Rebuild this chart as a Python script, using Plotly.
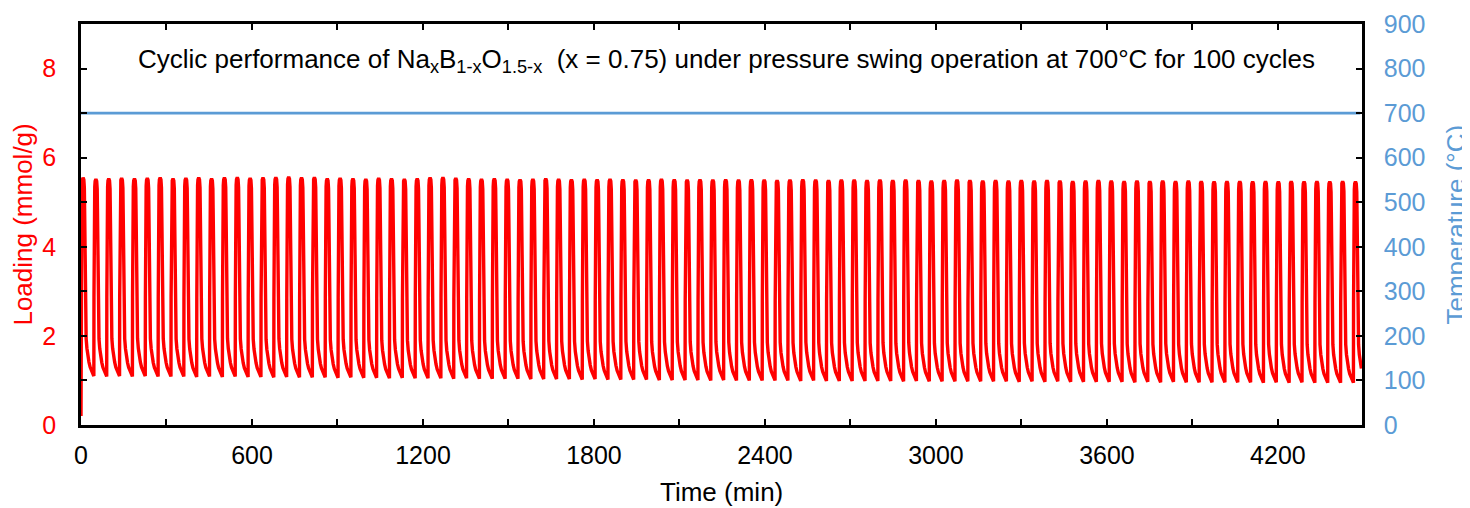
import plotly.graph_objects as go

# ---- data ----
cycle_period_min = 45.1
n_cycles = 100

# single-cycle shape (fraction of cycle, normalised loading 0=trough 1=peak)
shape_phase = [0.00, 0.01, 0.02, 0.035, 0.05, 0.07, 0.10, 0.16, 0.22, 0.26,
               0.28, 0.295, 0.31, 0.33, 0.36, 0.40, 0.46, 0.53, 0.62, 0.71,
               0.82, 0.92, 1.00]
shape_norm = [0.00, 0.40, 0.65, 0.82, 0.91, 0.96, 0.99, 1.00, 0.99, 0.95,
              0.85, 0.68, 0.50, 0.36, 0.26, 0.19, 0.14, 0.10, 0.07, 0.045,
              0.025, 0.01, 0.00]
peak_phase = 0.16
last_cycle_end_phase = 0.62

peaks = [5.55, 5.52, 5.53, 5.54, 5.53, 5.54, 5.55, 5.53, 5.54, 5.55,
         5.53, 5.55, 5.56, 5.54, 5.55, 5.56, 5.57, 5.55, 5.56, 5.53,
         5.54, 5.53, 5.52, 5.54, 5.53, 5.52, 5.53, 5.55, 5.56, 5.54,
         5.53, 5.52, 5.53, 5.52, 5.51, 5.52, 5.53, 5.52, 5.51, 5.52,
         5.51, 5.52, 5.51, 5.50, 5.51, 5.52, 5.51, 5.50, 5.51, 5.50,
         5.51, 5.50, 5.51, 5.50, 5.49, 5.50, 5.51, 5.50, 5.49, 5.50,
         5.50, 5.49, 5.50, 5.49, 5.50, 5.49, 5.48, 5.49, 5.50, 5.49,
         5.48, 5.49, 5.48, 5.49, 5.48, 5.49, 5.48, 5.47, 5.48, 5.49,
         5.48, 5.47, 5.48, 5.47, 5.48, 5.47, 5.48, 5.47, 5.46, 5.47,
         5.47, 5.46, 5.47, 5.46, 5.47, 5.46, 5.47, 5.46, 5.47, 5.46]

# trough before each cycle (plus final target)
troughs = [0.20,
           1.10, 1.09, 1.10, 1.09, 1.10, 1.09, 1.09, 1.09, 1.08, 1.09,
           1.08, 1.09, 1.08, 1.08, 1.07, 1.08, 1.07, 1.07, 1.07, 1.06,
           1.07, 1.06, 1.06, 1.05, 1.06, 1.05, 1.05, 1.05, 1.04, 1.05,
           1.04, 1.04, 1.04, 1.04, 1.03, 1.03, 1.03, 1.03, 1.02, 1.03,
           1.02, 1.02, 1.02, 1.02, 1.01, 1.01, 1.01, 1.01, 1.00, 1.01,
           1.00, 1.00, 1.00, 1.00, 1.00, 0.99, 1.00, 0.99, 0.99, 0.99,
           0.99, 0.99, 0.99, 0.98, 0.99, 0.98, 0.98, 0.98, 0.98, 0.98,
           0.98, 0.98, 0.97, 0.98, 0.97, 0.98, 0.97, 0.97, 0.97, 0.97,
           0.97, 0.96, 0.97, 0.96, 0.97, 0.96, 0.96, 0.96, 0.96, 0.96,
           0.96, 0.95, 0.96, 0.95, 0.96, 0.95, 0.95, 0.95, 0.95, 0.95]

temp_time = [0, 4489]
temp_value = [700, 700]

x_tick_vals = [0, 600, 1200, 1800, 2400, 3000, 3600, 4200]
x_top_tick_vals = [0, 300, 600, 900, 1200, 1500, 1800, 2100, 2400, 2700,
                   3000, 3300, 3600, 3900, 4200]
y1_tick_vals = [0, 2, 4, 6, 8]
y2_tick_vals = [0, 100, 200, 300, 400, 500, 600, 700, 800, 900]

# ---- build loading trace from per-cycle values ----
load_t, load_v = [], []
for k in range(n_cycles):
    start = k * cycle_period_min
    for ph, nv in zip(shape_phase, shape_norm):
        if k == n_cycles - 1 and ph > last_cycle_end_phase:
            break
        lo = troughs[k] if ph <= peak_phase else troughs[k + 1]
        load_t.append(start + ph * cycle_period_min)
        load_v.append(lo + (peaks[k] - lo) * nv)

RED = "#FF0000"
BLUE = "#5B9BD5"
FONT = "Liberation Sans, Arial, sans-serif"
FS = 25
X_RANGE = [0, 4495]

fig = go.Figure()
fig.add_trace(go.Scatter(x=load_t, y=load_v, mode="lines",
                         line=dict(color=RED, width=3.4), yaxis="y",
                         showlegend=False, hoverinfo="skip"))
fig.add_trace(go.Scatter(x=temp_time, y=temp_value, mode="lines",
                         line=dict(color=BLUE, width=2.6), yaxis="y2",
                         showlegend=False, hoverinfo="skip"))

tick_common = dict(ticks="inside", ticklen=6, tickwidth=2, tickcolor="black",
                   showline=True, linecolor="black", linewidth=2.6,
                   showgrid=False, zeroline=False, automargin=False)

# page body has an 8 px margin, so the figure is shrunk by 8 px on each axis
fig.update_layout(
    width=1462, height=500,
    margin=dict(l=73, r=108, t=16, b=83),
    plot_bgcolor="white", paper_bgcolor="white",
    font=dict(family=FONT, size=FS, color="black"),
    xaxis=dict(range=X_RANGE, tickvals=x_tick_vals,
               minor=dict(dtick=300, tick0=0, ticks="inside", ticklen=6,
                          tickwidth=2, tickcolor="black", showgrid=False),
               tickfont=dict(size=FS, color="black"), ticklabelstandoff=6,
               **tick_common),
    xaxis2=dict(range=X_RANGE, tickvals=x_top_tick_vals, overlaying="x",
                side="top", showticklabels=False, **tick_common),
    yaxis=dict(range=[0, 9], tickvals=y1_tick_vals,
               minor=dict(dtick=1, tick0=0, ticks="inside", ticklen=6,
                          tickwidth=2, tickcolor="black", showgrid=False),
               tickfont=dict(size=FS, color=RED), ticklabelstandoff=17,
               **tick_common),
    yaxis2=dict(range=[0, 900], tickvals=y2_tick_vals, overlaying="y",
                side="right", tickfont=dict(size=FS, color=BLUE),
                ticklabelstandoff=14, **tick_common),
    annotations=[
        dict(text="Cyclic performance of Na<sub>x</sub>B<sub>1-x</sub>O<sub>1.5-x</sub>  (x = 0.75) under pressure swing operation at 700°C for 100 cycles",
             xref="paper", yref="paper", x=0.504, y=0.91, showarrow=False,
             xanchor="center", yanchor="middle",
             font=dict(size=26, color="black")),
        dict(text="Time (min)", xref="paper", yref="paper", x=0.5, y=-0.167,
             showarrow=False, xanchor="center", yanchor="middle",
             font=dict(size=26, color="black")),
        dict(text="Loading (mmol/g)", xref="paper", yref="paper", x=-0.046,
             y=0.5, textangle=-90, showarrow=False, xanchor="center",
             yanchor="middle", font=dict(size=26, color=RED)),
        dict(text="Temperature (°C)", xref="paper", yref="paper", x=1.0726,
             y=0.5, textangle=-90, showarrow=False, xanchor="center",
             yanchor="middle", font=dict(size=26, color=BLUE)),
    ],
)
# invisible trace so the top axis is drawn
fig.add_trace(go.Scatter(x=[0], y=[0], xaxis="x2", yaxis="y", mode="markers",
                         marker=dict(opacity=0), showlegend=False,
                         hoverinfo="skip"))

fig.write_html("out.html")
